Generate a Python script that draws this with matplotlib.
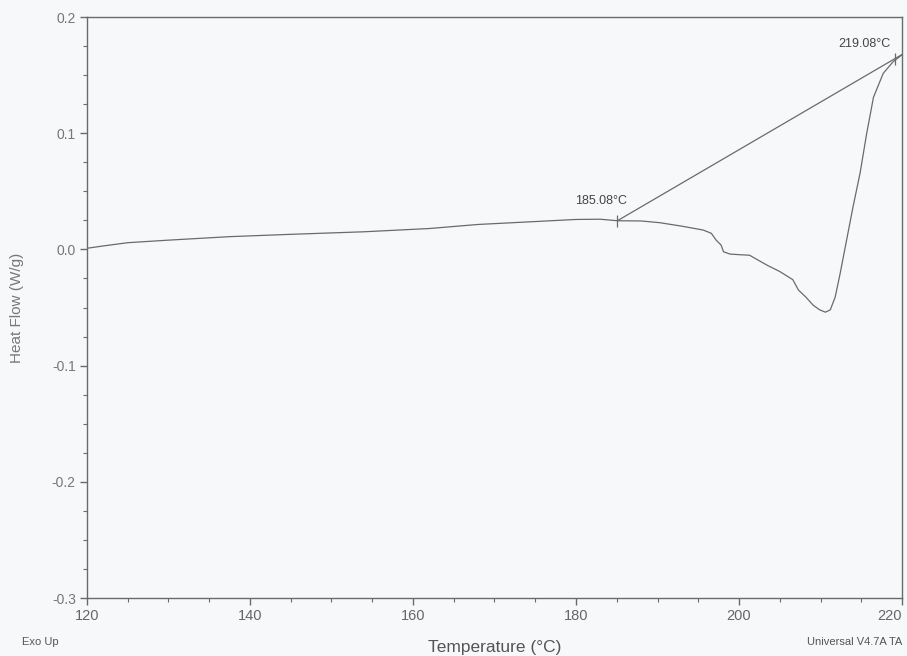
import matplotlib
matplotlib.use("Agg")
import matplotlib.pyplot as plt
from matplotlib.ticker import MultipleLocator
import numpy as np

# Data
temperature = [120, 122, 125, 130, 137.5, 145, 154, 162, 168, 175, 180, 183, 185.08,
               188, 190.3, 193, 195.6, 196.6, 197.2, 197.8, 198.1, 198.9, 200, 201.3,
               203.4, 205, 206.6, 207.3, 208.2, 209.1, 209.9, 210.6, 211.2, 211.8,
               212.4, 213.2, 214.0, 214.85, 215.67, 216.5, 217.7, 218.9, 219.96]
heat_flow = [0.001, 0.003, 0.0058, 0.008, 0.011, 0.013, 0.0152, 0.018, 0.0215, 0.024,
             0.0258, 0.026, 0.0247, 0.0245, 0.023, 0.020, 0.0167, 0.0139, 0.008, 0.0038,
             -0.002, -0.004, -0.0045, -0.005, -0.0134, -0.019, -0.026, -0.035, -0.041,
             -0.048, -0.052, -0.054, -0.052, -0.041, -0.021, 0.008, 0.037, 0.0655, 0.1,
             0.131, 0.1516, 0.1615, 0.1673]

onset_T, onset_HF = 185.08, 0.0247
end_T, end_HF = 219.08, 0.1640
tangent_end_T = 220.0

x_ticks = [120, 140, 160, 180, 200, 220]
y_ticks = [-0.3, -0.2, -0.1, 0.0, 0.1, 0.2]

line_color = "#6a6a6a"
text_color = "#555555"
bg = "#f6f8fa"

plt.rcParams['font.family'] = ['Liberation Sans', 'DejaVu Sans']

fig = plt.figure(figsize=(9.07, 6.56), dpi=100, facecolor=bg)
ax = fig.add_axes([0.0959, 0.0884, 0.8986, 0.8856])
ax.set_facecolor(bg)

ax.plot(temperature, heat_flow, color=line_color, lw=0.9)

# tangent line
slope = (end_HF - onset_HF) / (end_T - onset_T)
tx = [onset_T, tangent_end_T]
ty = [onset_HF, onset_HF + slope * (tangent_end_T - onset_T)]
ax.plot(tx, ty, color=line_color, lw=0.9)
ax.plot([onset_T, end_T], [onset_HF, end_HF], ls='none', marker='|',
        markersize=8, color=line_color, mew=0.9)

ax.text(onset_T - 2.0, onset_HF + 0.0115, "185.08°C", ha='center', va='bottom',
        fontsize=9, color="#444444")
ax.text(end_T - 0.5, end_HF + 0.008, "219.08°C", ha='right', va='bottom',
        fontsize=9, color="#444444")

ax.set_xlim(120, 220)
ax.set_ylim(-0.3, 0.2)
ax.set_xticks(x_ticks)
ax.set_yticks(y_ticks)
ax.set_yticklabels([f"{v:.1f}" for v in y_ticks])
ax.xaxis.set_minor_locator(MultipleLocator(5))
ax.yaxis.set_minor_locator(MultipleLocator(0.025))

for s in ax.spines.values():
    s.set_color(line_color)
    s.set_linewidth(1.0)

ax.tick_params(axis='both', which='major', direction='out', length=5,
               color=line_color, width=1.0)
ax.tick_params(axis='both', which='minor', direction='out', length=3,
               color=line_color, width=0.8)
ax.tick_params(axis='x', labelsize=10.5, labelcolor="#666666", pad=3)
ax.tick_params(axis='y', labelsize=10, labelcolor="#777777", pad=3)
# keep the last x tick label inside the figure
xlabels = ax.get_xticklabels()
xlabels[-1].set_horizontalalignment('right')

ax.set_xlabel("Temperature (°C)", fontsize=12.5, color=text_color, labelpad=12)
ax.set_ylabel("Heat Flow (W/g)", fontsize=11, color="#777777", labelpad=20)

fig.text(0.024, 0.014, "Exo Up", fontsize=8, color=text_color, ha='left', va='bottom')
fig.text(0.995, 0.014, "Universal V4.7A TA", fontsize=8, color=text_color,
         ha='right', va='bottom')

fig.savefig("out.png", dpi=100, facecolor=bg)
